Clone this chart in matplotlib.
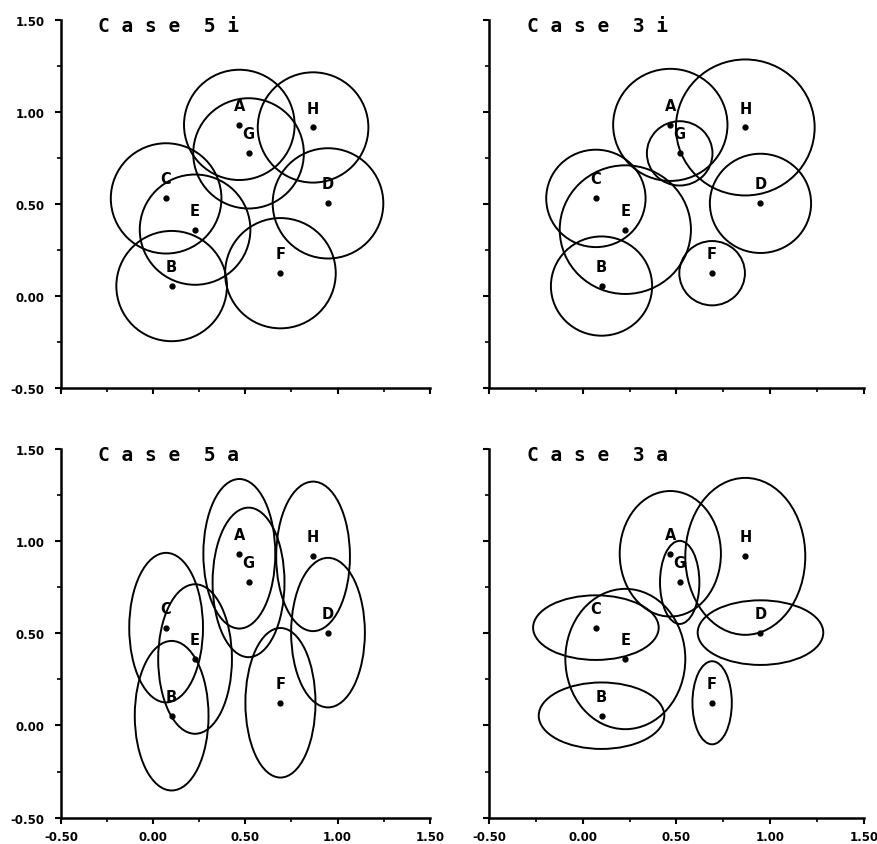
import numpy as np
import matplotlib
matplotlib.use("Agg")
import matplotlib.pyplot as plt
from matplotlib.patches import Ellipse
from matplotlib.ticker import MultipleLocator, FixedLocator

# stimulus locations (same configuration in all four cases)
labels = ["A", "B", "C", "D", "E", "F", "G", "H"]
x_pos = [0.467, 0.100, 0.070, 0.948, 0.227, 0.690, 0.517, 0.867]
y_pos = [0.930, 0.053, 0.530, 0.503, 0.360, 0.123, 0.775, 0.916]

# full widths / heights of the region drawn round each point
width_5i = [0.60, 0.60, 0.60, 0.60, 0.60, 0.60, 0.60, 0.60]
height_5i = [0.60, 0.60, 0.60, 0.60, 0.60, 0.60, 0.60, 0.60]

width_3i = [0.61, 0.54, 0.53, 0.54, 0.70, 0.35, 0.35, 0.74]
height_3i = [0.61, 0.54, 0.53, 0.54, 0.70, 0.35, 0.35, 0.74]

width_5a = [0.39, 0.40, 0.40, 0.40, 0.40, 0.38, 0.39, 0.40]
height_5a = [0.81, 0.81, 0.81, 0.81, 0.81, 0.81, 0.81, 0.81]

width_3a = [0.54, 0.67, 0.67, 0.67, 0.64, 0.21, 0.21, 0.64]
height_3a = [0.68, 0.36, 0.35, 0.35, 0.76, 0.45, 0.45, 0.85]

cases = [
    ("C a s e  5 i", width_5i, height_5i),
    ("C a s e  3 i", width_3i, height_3i),
    ("C a s e  5 a", width_5a, height_5a),
    ("C a s e  3 a", width_3a, height_3a),
]

fig = plt.figure(figsize=(8.78, 8.45), dpi=100)

# axes boxes in figure fractions: left, bottom, width, height
boxes = [
    (0.0695, 0.540, 0.420, 0.435),
    (0.557, 0.540, 0.427, 0.435),
    (0.0695, 0.031, 0.420, 0.437),
    (0.557, 0.031, 0.427, 0.437),
]

tick_labels = ["-0.50", "0.00", "0.50", "1.00", "1.50"]
tick_vals = [-0.5, 0.0, 0.5, 1.0, 1.5]

for i, ((title, widths, heights), box) in enumerate(zip(cases, boxes)):
    ax = fig.add_axes(box)
    ax.set_xlim(-0.5, 1.5)
    ax.set_ylim(-0.5, 1.5)
    for s in ["top", "right"]:
        ax.spines[s].set_visible(False)
    for s in ["left", "bottom"]:
        ax.spines[s].set_linewidth(1.8)

    for lab, x, y, w, h in zip(labels, x_pos, y_pos, widths, heights):
        ax.add_patch(Ellipse((x, y), w, h, fill=False, lw=1.4, ec="black"))
        ax.plot(x, y, "o", color="black", ms=3.5)
        ax.text(x, y + 0.065, lab, ha="center", va="bottom", fontsize=10.5,
                fontweight="semibold")

    ax.xaxis.set_major_locator(FixedLocator(tick_vals))
    ax.yaxis.set_major_locator(FixedLocator(tick_vals))
    ax.xaxis.set_minor_locator(MultipleLocator(0.25))
    ax.yaxis.set_minor_locator(MultipleLocator(0.25))
    ax.tick_params(which="major", direction="out", length=4, width=1.5, pad=5)
    ax.tick_params(which="minor", direction="out", length=3, width=1.2)

    if i % 2 == 0:
        ax.set_yticklabels(tick_labels, fontsize=8.5, fontweight="bold")
        ax.tick_params(axis="y", pad=8)
    else:
        ax.set_yticklabels([])
    if i >= 2:
        ax.set_xticklabels(tick_labels, fontsize=8.5, fontweight="bold")
    else:
        ax.set_xticklabels([])

    ax.text(0.10, 0.985, title, transform=ax.transAxes, ha="left", va="center",
            fontsize=14, fontweight="bold", family="DejaVu Sans Mono")

fig.savefig("out.png", dpi=100)
